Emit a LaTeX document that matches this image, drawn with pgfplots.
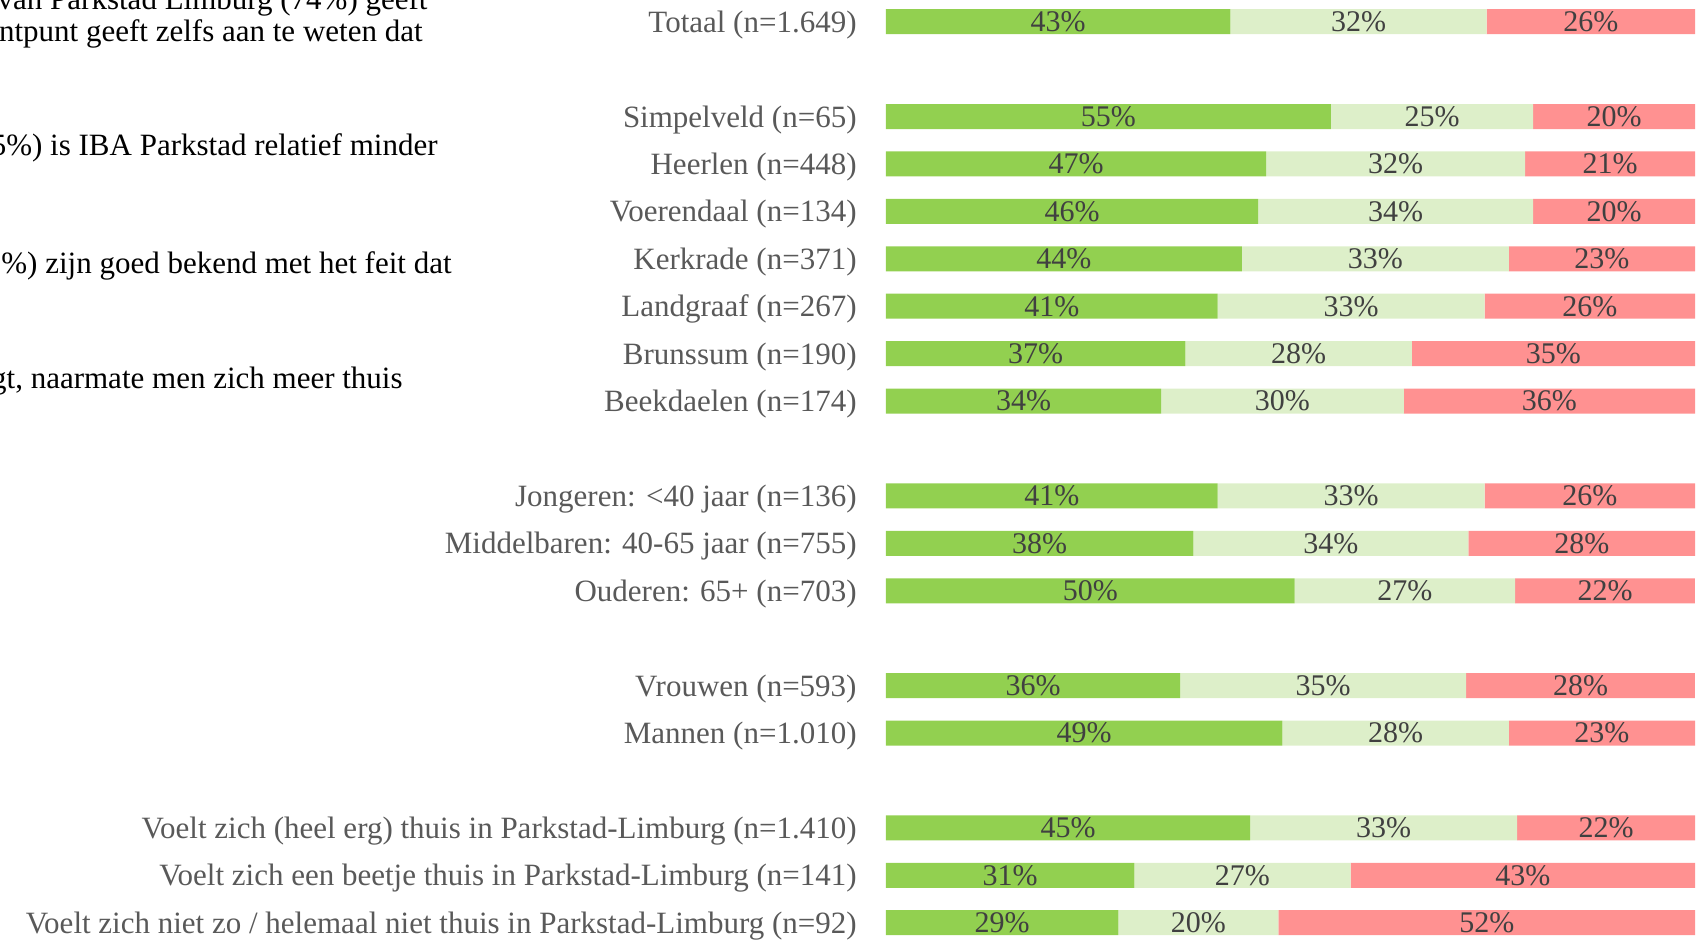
\documentclass[border=0pt]{standalone}
\usepackage{fontspec}
\setmainfont{Liberation Serif}
\usepackage{pgfplots}
\usepackage{pgfplotstable}
\pgfplotsset{compat=1.18}
\definecolor{cgreen}{HTML}{92D050}
\definecolor{clight}{HTML}{DDEFC9}
\definecolor{cred}{HTML}{FF9191}
\definecolor{labgray}{HTML}{595959}
\definecolor{valgray}{HTML}{404040}

\pgfplotstableread{
pos a b c
0 43 32 26
2 55 25 20
3 47 32 21
4 46 34 20
5 44 33 23
6 41 33 26
7 37 28 35
8 34 30 36
10 41 33 26
11 38 34 28
12 50 27 22
14 36 35 28
15 49 28 23
17 45 33 22
18 31 27 43
19 29 20 52
}\data

\begin{document}
\begin{tikzpicture}
\useasboundingbox (0,0) rectangle (852pt,469.5pt);
\clip (0,0) rectangle (852pt,469.5pt);
\pgfplotsset{base/.style={width=404.5pt,height=450.5pt,scale only axis,
  at={(443pt,8.15pt)}, anchor=south west,
  xmin=0,xmax=100,ymin=0,ymax=19, y dir=reverse, enlargelimits=false,
  clip=false, axis line style={draw=none}, tick style={draw=none}, xtick=\empty}}
\begin{axis}[base, xbar stacked, bar width=12.5pt,
  ytick={0,2,3,4,5,6,7,8,10,11,12,14,15,17,18,19},
  yticklabels={Totaal (n=1.649),Simpelveld (n=65),Heerlen (n=448),Voerendaal (n=134),Kerkrade (n=371),Landgraaf (n=267),Brunssum (n=190),Beekdaelen (n=174),Jongeren: <40 jaar (n=136),Middelbaren: 40-65 jaar (n=755),Ouderen: 65+ (n=703),Vrouwen (n=593),Mannen (n=1.010),Voelt zich (heel erg) thuis in Parkstad-Limburg (n=1.410),Voelt zich een beetje thuis in Parkstad-Limburg (n=141),Voelt zich niet zo / helemaal niet thuis in Parkstad-Limburg (n=92)},
  yticklabel style={font=\fontsize{15.5pt}{18pt}\selectfont, text=labgray, inner sep=0pt, xshift=-14.5pt, yshift=-1.5pt}]
\addplot[fill=cgreen, draw=none] table[y=pos, x expr={\thisrow{a}*100/(\thisrow{a}+\thisrow{b}+\thisrow{c})}] \data;
\addplot[fill=clight, draw=none] table[y=pos, x expr={\thisrow{b}*100/(\thisrow{a}+\thisrow{b}+\thisrow{c})}] \data;
\addplot[fill=cred, draw=none] table[y=pos, x expr={\thisrow{c}*100/(\thisrow{a}+\thisrow{b}+\thisrow{c})}] \data;
\end{axis}
\begin{axis}[base, ytick=\empty,
  every node near coord/.style={anchor=center, inner sep=0pt, font=\fontsize{15pt}{18pt}\selectfont, text=valgray},
  nodes near coords={\pgfplotspointmeta\%}, point meta=explicit symbolic]
\addplot[only marks, mark=*, mark size=0pt, mark options={draw=none,fill=none}] table[y=pos, meta=a, x expr={\thisrow{a}*50/(\thisrow{a}+\thisrow{b}+\thisrow{c})}] \data;
\addplot[only marks, mark=*, mark size=0pt, mark options={draw=none,fill=none}] table[y=pos, meta=b, x expr={(\thisrow{a}+0.5*\thisrow{b})*100/(\thisrow{a}+\thisrow{b}+\thisrow{c})}] \data;
\addplot[only marks, mark=*, mark size=0pt, mark options={draw=none,fill=none}] table[y=pos, meta=c, x expr={(\thisrow{a}+\thisrow{b}+0.5*\thisrow{c})*100/(\thisrow{a}+\thisrow{b}+\thisrow{c})}] \data;
\end{axis}
\begin{scope}[every node/.style={anchor=base east, inner sep=0pt, font=\fontsize{15.5pt}{18pt}\selectfont, text=black}]
\node at (214pt,464.5pt) {van Parkstad Limburg (74\%) geeft};
\node at (211.5pt,448.5pt) {ntpunt geeft zelfs aan te weten dat};
\node at (219pt,391.5pt) {5\%) is IBA Parkstad relatief minder};
\node at (226pt,332.5pt) {\%) zijn goed bekend met het feit dat};
\node at (201.5pt,275.5pt) {gt, naarmate men zich meer thuis};
\end{scope}
\end{tikzpicture}
\end{document}
